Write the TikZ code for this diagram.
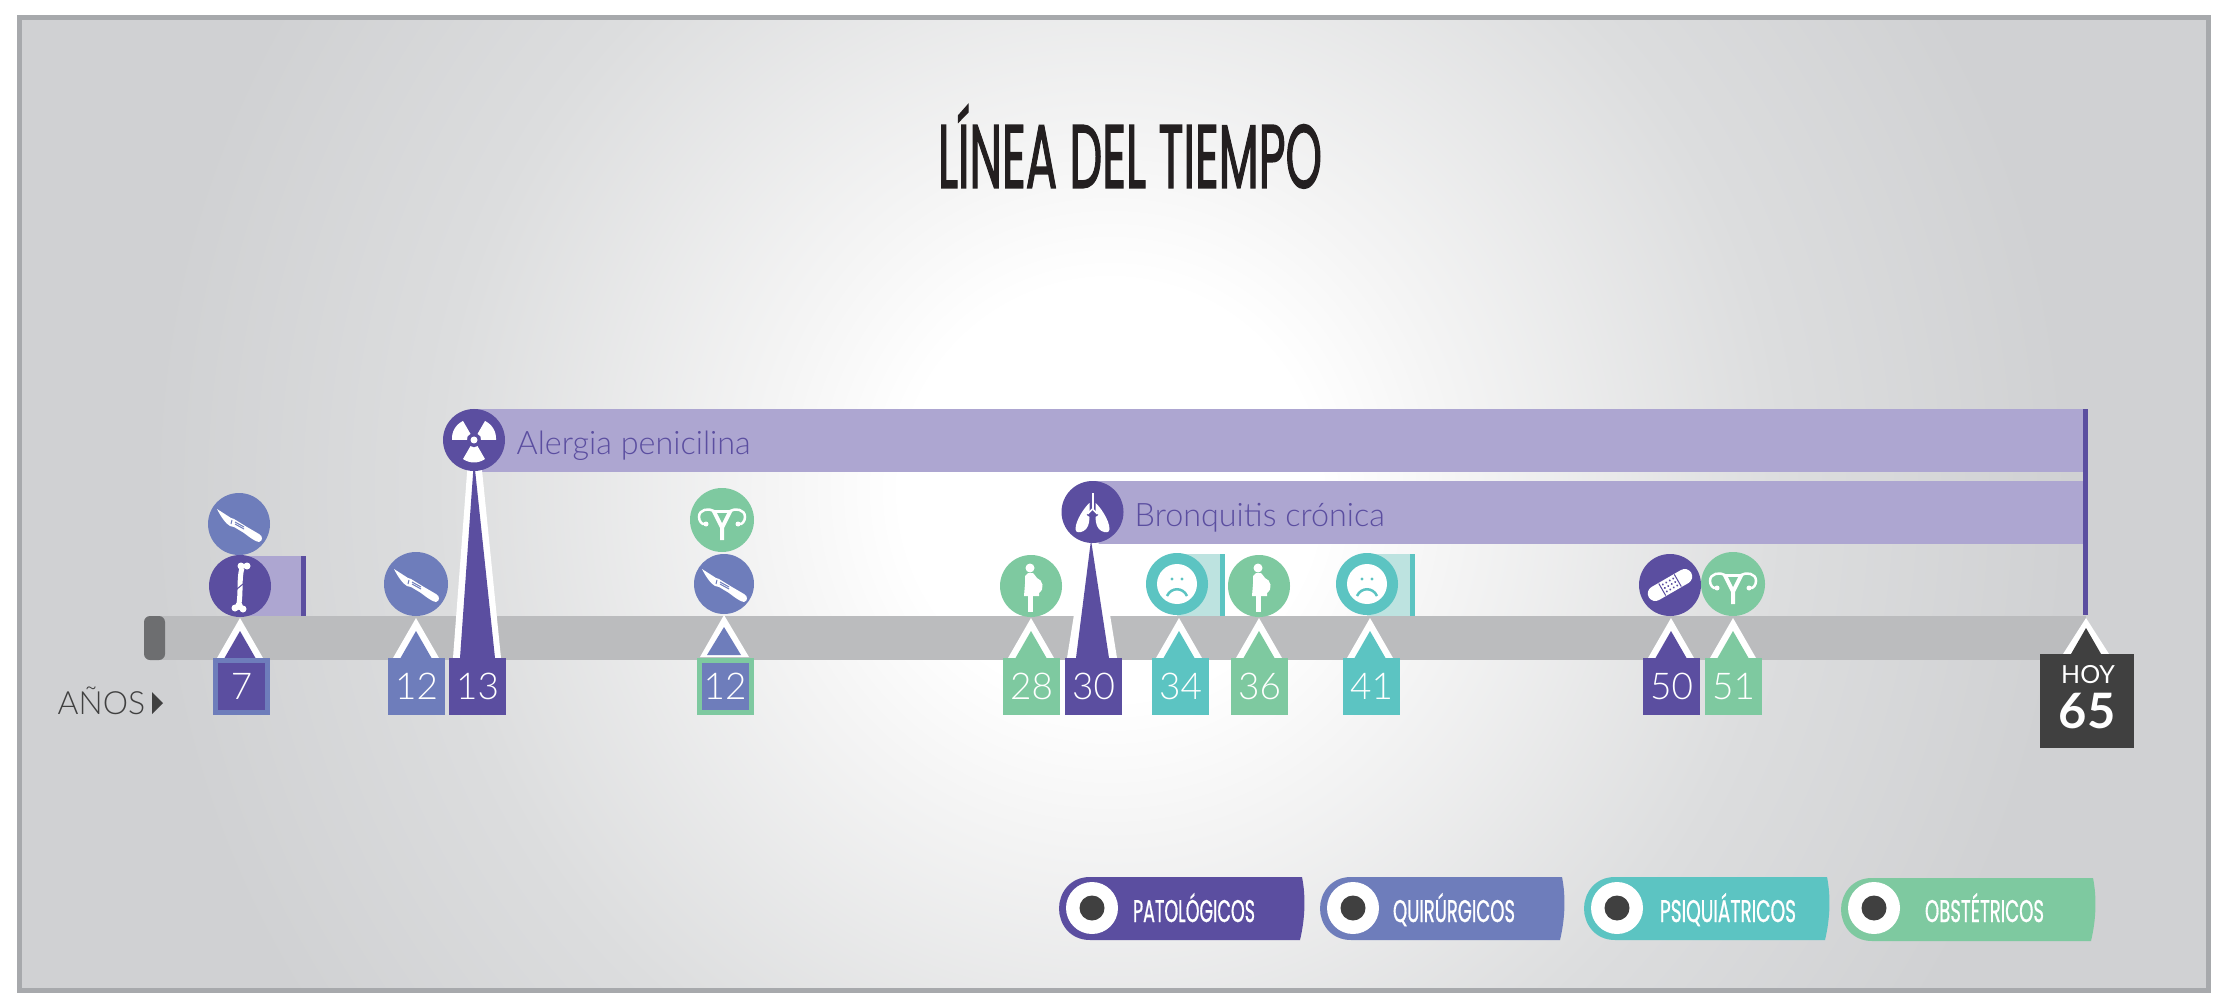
\documentclass[tikz,border=0pt]{standalone}
\usepackage{fontspec}
\setmainfont{Lato}
\newfontfamily\lightfont{Lato Light}
\newfontfamily\headfont[FakeBold=2]{Poppins}
\newfontfamily\tagfont[FakeBold=1]{Poppins}
\definecolor{patcol}{HTML}{5B4EA0}
\definecolor{quicol}{HTML}{6E7DBB}
\definecolor{psicol}{HTML}{5CC4C2}
\definecolor{obscol}{HTML}{7EC9A0}
\definecolor{bandcol}{HTML}{ADA6D1}
\definecolor{softcol}{HTML}{BDE3E0}
\definecolor{barcol}{HTML}{BBBCBE}
\definecolor{capcol}{HTML}{6D6E70}
\definecolor{framecol}{HTML}{A7A9AC}
\definecolor{inkcol}{HTML}{404040}
\definecolor{titlecol}{HTML}{231F20}
\definecolor{glowa}{HTML}{F5F5F5}
\definecolor{glowb}{HTML}{DCDDDE}
\definecolor{glowc}{HTML}{D0D1D3}
\pgfdeclareradialshading{bgglow}{\pgfpoint{0bp}{0bp}}{color(0bp)=(white); color(4bp)=(white); color(6.5bp)=(glowa); color(13bp)=(glowb); color(18.5bp)=(glowc); color(50bp)=(glowc)}
\tikzset{
  disc/.style={circle,inner sep=0pt,minimum size=6.2mm},
  yearbox/.style={rectangle,inner sep=0pt,minimum size=5.2mm,line width=0.5mm,text=white,font=\lightfont\fontsize{10.5}{12}\selectfont},
  bandtext/.style={anchor=base west,inner sep=0pt,text=patcol,font=\lightfont\fontsize{9.2}{11}\selectfont},
  scalpel/.pic={
    \fill[white] (-22,-15) -- (-8,-6) -- (-5,-5) -- (8,3) -- (20,10) .. controls (24,12) and (24,17) .. (20,18)
      .. controls (17,18) and (10,13) .. (5,9) -- (-5,3) -- (-9,2) .. controls (-13,0) and (-18,-7) .. cycle;
    \draw[quicol,line width=0.1mm] (-4,-2) -- (5,3);
    \draw[quicol,line width=0.1mm] (-4,0) -- (5,5);
    \draw[quicol,line width=0.1mm] (-7,-4) -- (-8,0);
  },
  bone/.pic={
    \draw[white,line width=0.5mm] (2,-18) .. controls (-1,-8) and (1,4) .. (-1,18);
    \fill[white] (7,-20) circle (3.5) (1,-20) circle (3.5) (-5,22) circle (3.5) (3,23) circle (3.5) (-1,20) circle (4);
    \draw[patcol,line width=0.1mm] (-3,3) -- (3,-2);
  },
  trefoil/.pic={
    \foreach \a in {-150,-30,90}
      \fill[white] ({\a-30}:7) -- ({\a-30}:22) .. controls ({\a-10}:24) and ({\a+10}:24) .. ({\a+30}:22) -- ({\a+30}:7) .. controls ({\a+10}:8) and ({\a-10}:8) .. cycle;
    \fill[white] (0,0) circle (3.5);
  },
  lungs/.pic={
    \draw[white,line width=0.2mm] (0,-19) -- (0,-3);
    \foreach \s in {-1,1}{
      \begin{scope}[xscale=\s]
        \draw[white,line width=0.15mm] (0,-3) -- (5,2);
        \fill[white] (3,-9) .. controls (7,-6) and (17,8) .. (17,17) .. controls (17,21) and (13,21) .. (9,19)
          .. controls (5,17) and (3,12) .. (3,5) -- (6,3) -- (3,-1) -- cycle;
      \end{scope}
    }
  },
  mother/.pic={
    \fill[white] (-1,-18) circle (4.5);
    \fill[white] (-3,-13) -- (2,-13) .. controls (4,-11) and (5,-9) .. (6,-8) .. controls (12,-6) and (14,3) .. (8,7)
      -- (8,10) -- (-7,10) -- (-6,-2) -- (-6,-10) -- cycle;
    \fill[white] (-3,10) rectangle (2,26);
  },
  sadface/.pic={
    \fill[white] (0,0) circle (20);
    \fill[psicol] (-5,-5) circle (1.6) (5,-5) circle (1.6);
    \draw[psicol,line width=0.25mm] (-10,12) .. controls (-6,3) and (6,3) .. (10,12);
  },
  plaster/.pic={
    \begin{scope}[rotate=30]
      \draw[white,line width=1.5mm,line cap=round] (-17,0) -- (17,0);
      \draw[patcol,line width=0.1mm] (-9,-7) -- (-9,7) (9,-7) -- (9,7);
      \foreach \i in {-6,-2,2,6} \foreach \j in {-4,0,4}
        \fill[patcol] (\i,\j) circle (1.1);
    \end{scope}
  },
  uterus/.pic={
    \fill[white] (-11,-10) -- (11,-10) -- (2,8) -- (2,20) -- (-2,20) -- (-2,8) -- cycle;
    \fill[obscol] (-5,-7) -- (5,-7) -- (0,3) -- cycle;
    \foreach \s in {-1,1}{
      \begin{scope}[xscale=\s]
        \draw[white,line width=0.25mm] (8,-9) .. controls (13,-12) and (23,-11) .. (23,-3) .. controls (23,1) and (20,5) .. (17,4);
        \fill[white] (16,4) circle (2.5);
      \end{scope}
    }
  }
}
\begin{document}
\begin{tikzpicture}[x=0.1mm,y=-0.1mm]
  \useasboundingbox (0,0) rectangle (2221,1004);

  % background
  \begin{scope}
    \clip (19,17.5) rectangle (2208.5,990.5);
    \shade[shading=bgglow] (1110,490) circle (1300);
  \end{scope}
  \draw[framecol,line width=0.5mm] (19,17.5) rectangle (2208.5,990.5);

  \node[inner sep=0pt,text=titlecol] (title) at (1130,146.5) {\resizebox{38.4mm}{8.3mm}{\headfont LÍNEA DEL TIEMPO}};

  % time bar
  \fill[barcol] (155,616) rectangle (2086,660);
  \fill[capcol,rounded corners=0.6mm] (144,616) rectangle (165,660);

  % long lasting bands
  \fill[bandcol] (474,409) rectangle (2085,472);
  \fill[bandcol] (1092,481) rectangle (2085,544);
  \fill[patcol] (2083,409) rectangle (2088,615);
  \fill[bandcol] (240,556) rectangle (306,616);
  \fill[patcol] (301,556) rectangle (306,616);
  \fill[softcol] (1177,554) rectangle (1225,616);
  \fill[psicol] (1220,554) rectangle (1225,616);
  \fill[softcol] (1367,554) rectangle (1415,616);
  \fill[psicol] (1410,554) rectangle (1415,616);

  % spikes
  \fill[white] (453,658) -- (468,460) -- (481,460) -- (501,658) -- cycle;
  \fill[patcol] (460,658) -- (474,460) -- (495,658) -- cycle;
  \fill[white] (1067,658) -- (1086,540) -- (1098,540) -- (1117,658) -- cycle;
  \fill[patcol] (1076,658) -- (1091,540) -- (1109,658) -- cycle;

  % open markers
  \foreach \tx/\c in {240/patcol,416/quicol,1031/obscol,1179/psicol,1259/obscol,1370/psicol,1671/patcol,1733/obscol}{
    \fill[white] (\tx,618) -- ({\tx+23},658) -- ({\tx-23},658) -- cycle;
    \fill[\c] (\tx,631) -- ({\tx+15.5},658) -- ({\tx-15.5},658) -- cycle;
  }
  \fill[white] (724,615) -- (749,657) -- (700,657) -- cycle;
  \fill[quicol] (724,627) -- (741,655) -- (707,655) -- cycle;
  \fill[white] (2086,618) -- (2109,654) -- (2063,654) -- cycle;
  \fill[inkcol] (2086,628) -- (2101,654) -- (2071,654) -- cycle;

  % events
  \node[disc,fill=quicol] (c7b) at (239,524) {};
  \node[disc,fill=patcol] (c7a) at (240,586) {};
  \node[disc,fill=quicol,minimum size=6.4mm] (c12a) at (416,584) {};
  \node[disc,fill=patcol] (c13) at (474,440) {};
  \node[disc,fill=obscol,minimum size=6.4mm] (c12c) at (722,520) {};
  \node[disc,fill=quicol,minimum size=6mm] (c12b) at (724,584) {};
  \node[disc,fill=obscol] (c28) at (1031,586) {};
  \node[disc,fill=patcol] (c30) at (1092.5,512) {};
  \node[disc,fill=psicol] (c34) at (1177,584) {};
  \node[disc,fill=obscol] (c36) at (1259,586) {};
  \node[disc,fill=psicol] (c41) at (1367,584) {};
  \node[disc,fill=patcol] (c50) at (1670,585) {};
  \node[disc,fill=obscol,minimum size=6.4mm] (c51) at (1733,584) {};

  \pic at (c7b) {scalpel};
  \pic at (c7a) {bone};
  \pic at (c12a) {scalpel};
  \pic at (c13) {trefoil};
  \pic at (c12c) {uterus};
  \pic at (c12b) {scalpel};
  \pic at (c28) {mother};
  \pic at (c30) {lungs};
  \pic at (c34) {sadface};
  \pic at (c36) {mother};
  \pic at (c41) {sadface};
  \pic at (c50) {plaster};
  \pic at (c51) {uterus};

  % ages
  \foreach \n/\bx/\c/\o/\t in {b7/241.5/patcol/quicol/7,b12a/416.5/quicol/quicol/12,b13/477.5/patcol/patcol/13,b12b/725/quicol/obscol/12,b28/1031.5/obscol/obscol/28,b30/1093.5/patcol/patcol/30,b34/1180.5/psicol/psicol/34,b36/1259.5/obscol/obscol/36,b41/1371.5/psicol/psicol/41,b50/1671.5/patcol/patcol/50,b51/1733.5/obscol/obscol/51}
    \node[yearbox,fill=\c,draw=\o] (\n) at (\bx,686.5) {\t};

  \node[rectangle,fill=inkcol,minimum width=9.4mm,minimum height=9.4mm,inner sep=0pt] (hoybox) at (2087,701) {};
  \node[inner sep=0pt,text=white,font=\fontsize{7.1}{8}\selectfont] (hoy) at (2088,675) {HOY};
  \node[inner sep=0pt,text=white,font=\bfseries\fontsize{13.9}{15}\selectfont] (hoyage) at (2087,711.5) {65};

  \node[bandtext] (alergia) at (516,454) {Alergia penicilina};
  \node[bandtext] (bronquitis) at (1134,526) {Bronquitis crónica};

  \node[anchor=base west,inner sep=0pt,text=inkcol,font=\lightfont\fontsize{9.1}{11}\selectfont] (anios) at (57,714) {AÑOS};
  \fill[inkcol] (152,692) -- (163,703) -- (152,714) -- cycle;

  % legend
  \foreach \n/\lx/\rx/\ty/\c/\tx/\w/\t in {pat/1090/1305/877/patcol/1194/12.2mm/PATOLÓGICOS,qui/1351/1565/877/quicol/1454/12.2mm/QUIRÚRGICOS,psi/1615/1830/877/psicol/1728/13.6mm/PSIQUIÁTRICOS,obs/1872/2096/878/obscol/1984.5/11.9mm/OBSTÉTRICOS}{
    \fill[\c] (\lx,\ty) -- ({\rx-3},\ty) .. controls ({\rx+1},{\ty+20}) and ({\rx},{\ty+42}) .. ({\rx-5},{\ty+63}) -- (\lx,{\ty+63})
      .. controls ({\lx-21},{\ty+63}) and ({\lx-31},{\ty+46}) .. ({\lx-31},{\ty+31.5}) .. controls ({\lx-31},{\ty+17}) and ({\lx-21},\ty) .. (\lx,\ty) -- cycle;
    \node[disc,fill=white,minimum size=5.2mm] (\n a) at ({\lx+2},908) {};
    \node[disc,fill=inkcol,minimum size=2.5mm] (\n b) at ({\lx+2},908) {};
    \node[anchor=base,inner sep=0pt,text=white] (\n) at (\tx,922) {\resizebox{\w}{2.9mm}{\tagfont \t}};
  }
\end{tikzpicture}
\end{document}
